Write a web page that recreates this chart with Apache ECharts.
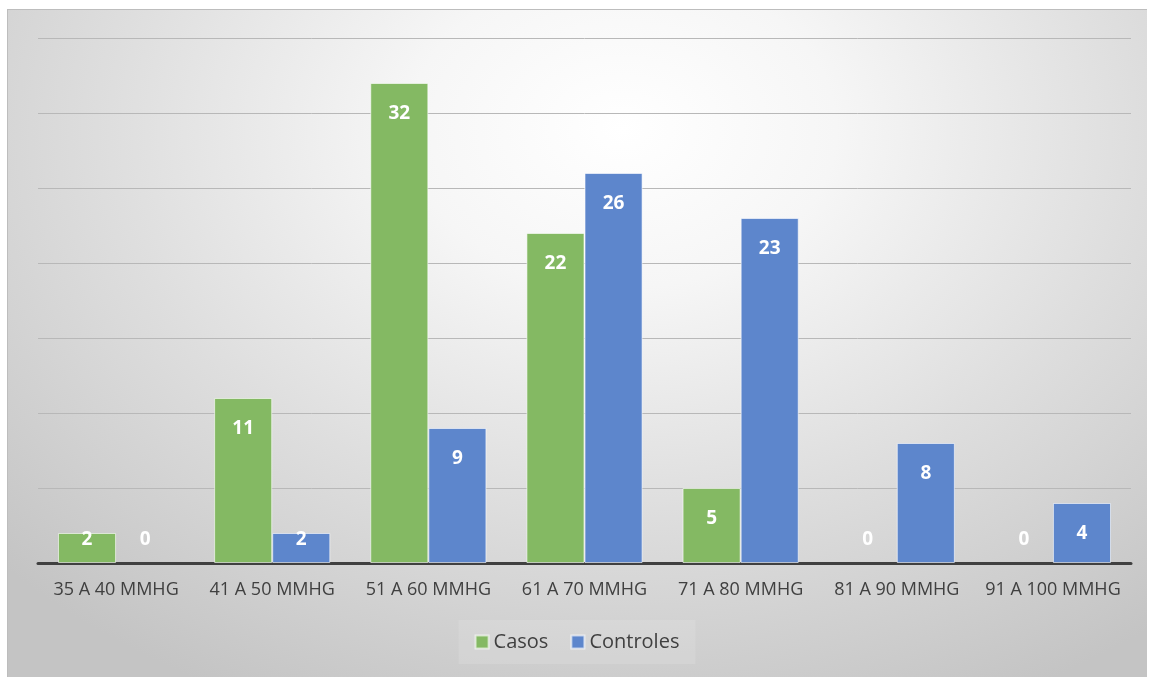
<!DOCTYPE html>
<html><head><meta charset="utf-8">
<script src="https://cdn.jsdelivr.net/npm/echarts@6/dist/echarts.min.js"></script>
<style>
html,body{margin:0;padding:0;background:#fff;width:1154px;height:677px;overflow:hidden}
#frame{position:absolute;left:7px;top:9px;width:1140px;height:668px;
background:radial-gradient(ellipse 75% 95% at 54% 18%, #ffffff 0%, #f6f6f6 25%, #dedede 60%, #c4c4c4 100%);
box-shadow: inset 1px 1px 0 #bdbdbd;}
#chart{width:1140px;height:668px}
</style></head><body>
<div id="frame"><div id="chart"></div></div>
<script>
const categories = ['35 A 40 MMHG','41 A 50 MMHG','51 A 60 MMHG','61 A 70 MMHG','71 A 80 MMHG','81 A 90 MMHG','91 A 100 MMHG'];
const casos = [2, 11, 32, 22, 5, 0, 0];
const controles = [0, 2, 9, 26, 23, 8, 4];
const seriesNames = ['Casos','Controles'];

const FONT = '"Open Sans", Lato, sans-serif';
function toData(arr){
  return arr.map(v => {
    if (v === 0) return {value:v, itemStyle:{borderWidth:0}, label:{position:'insideBottom', distance:14}};
    if (v <= 2) return {value:v, label:{position:'insideBottom', distance:14}};
    return v;
  });
}
const labelStyle = {show:true, position:'insideTop', distance:21, color:'#fff', fontWeight:'bold', fontSize:19, fontFamily:FONT};
const chart = echarts.init(document.getElementById('chart'), null, {renderer:'canvas'});
chart.setOption({
  backgroundColor:'transparent',
  animation:false,
  grid:{left:31, right:16, top:29, bottom:114},
  legend:{
    data:seriesNames, bottom:13, left:'center', itemWidth:13, itemHeight:13, itemGap:22,
    icon:'rect', textStyle:{color:'#404040', fontSize:20, fontFamily:FONT},
    backgroundColor:'rgba(255,255,255,0.12)', padding:[12,16]
  },
  xAxis:{
    type:'category', data:categories,
    axisLine:{lineStyle:{color:'#404040', width:3}},
    axisTick:{show:false},
    axisLabel:{color:'#404040', fontSize:18, fontFamily:FONT, margin:18, interval:0}
  },
  yAxis:{
    type:'value', min:0, max:35, interval:5,
    axisLabel:{show:false}, axisLine:{show:false}, axisTick:{show:false},
    splitLine:{lineStyle:{color:'#b8b8b8', width:1}}
  },
  series:[
    {name:'Casos', type:'bar', data:toData(casos), barGap:'0%', barCategoryGap:'25.6%',
     itemStyle:{color:'#84B963', borderColor:'rgba(255,255,255,0.6)', borderWidth:1}, label:labelStyle},
    {name:'Controles', type:'bar', data:toData(controles), barGap:'0%', barCategoryGap:'25.6%',
     itemStyle:{color:'#5D86CC', borderColor:'rgba(255,255,255,0.6)', borderWidth:1}, label:labelStyle}
  ]
});
</script>
</body></html>
